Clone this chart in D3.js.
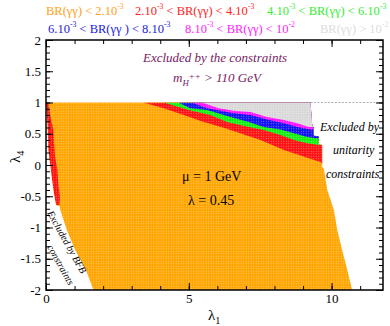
<!DOCTYPE html>
<html lang="en">
<head>
<meta charset="utf-8">
<title>BR(gamma gamma) scan in the lambda1 - lambda4 plane</title>
<script src="https://d3js.org/d3.v7.min.js"></script>
<style>
body { margin: 0; background: #fff; }
svg text { font-family: "Liberation Serif", "DejaVu Serif", serif; }
.axis path { display: none; }
.axis line { stroke: #000; stroke-width: 1; }
.axis text { font-size: 13px; fill: #000; }
</style>
</head>
<body>
<script>
// axis ticks
var xMajor = [0, 5, 10];
var xMinor = d3.range(0, 12, 1);
var yMajor = [-2, -1.5, -1, -0.5, 0, 0.5, 1, 1.5, 2];
var yMinor = d3.range(-20, 21).map(function(d) { return d / 10; });

// allowed region [lambda1, lambda4]
var allowed = [[0,1],[9.26,1],[9.32,0.64],[9.37,0.6],[9.37,0.47],[9.55,0.46],[9.55,0.33],
  [9.67,0.32],[9.67,-0.03],[9.73,-0.06],[9.85,-0.4],[10.08,-0.72],[10.2,-1.04],[10.37,-1.36],
  [10.55,-1.68],[10.72,-2],[1.66,-2],[1.4,-1.68],[1.02,-1.36],[0.73,-1.04],[0.5,-0.72],
  [0.48,-0.66],[0.35,-0.64],[0.32,-0.56],[0.26,-0.4],[0.2,-0.19],[0.14,0.03],[0.08,0.24],
  [0.07,0.45],[0.05,0.67],[0,1]];

// lower edges of each BR(gg) band
var redEdge = [[3.4,1],[4.12,0.91],[4.82,0.8],[5.52,0.69],[6.28,0.59],[6.98,0.48],[7.51,0.4],
  [8.33,0.24],[9.2,0.11],[9.61,0.05],[9.67,0.02]];
var greenEdge = [[4.12,1],[4.99,0.88],[5.75,0.8],[6.34,0.69],[7.1,0.61],[7.62,0.56],[8.21,0.48],
  [8.68,0.4],[9.15,0.35],[9.55,0.32]];
var blueEdge = [[4.64,1],[5.05,0.91],[5.64,0.88],[6.46,0.77],[7.1,0.69],[7.62,0.61],[8.21,0.57],
  [8.68,0.51],[9.15,0.45],[9.44,0.43]];
var magentaEdge = [[5.09,1],[5.64,0.91],[6.11,0.87],[6.57,0.83],[7.16,0.8],[7.74,0.73],
  [8.33,0.67],[8.8,0.61],[9.26,0.57]];
var grayEdge = [[5.46,1],[6.05,0.91],[6.57,0.87],[7.16,0.85],[7.74,0.77],[8.33,0.72],
  [8.8,0.67],[9.2,0.61]];

// red strip along the BFB edge
var leftStrip = [[0,1],[0.08,1],[0.16,0.77],[0.26,0.56],[0.28,0.35],[0.32,0.13],[0.4,-0.08],
  [0.43,-0.29],[0.49,-0.51],[0.47,-0.64],[0.35,-0.64],[0.32,-0.56],[0.26,-0.4],[0.2,-0.19],
  [0.14,0.03],[0.08,0.24],[0.07,0.45],[0.05,0.67]];

var colors = {orange: "#ffa500", red: "#ff1010", green: "#10f010", blue: "#1010f0",
              magenta: "#ff10ff", gray: "#d8d8d8"};

var w = 390, h = 326;
var svg = d3.select("body").append("svg").attr("width", w).attr("height", h);

var x = d3.scaleLinear().domain([0, 11.8]).range([46, 383]);
var y = d3.scaleLinear().domain([-2, 2]).range([290, 40]);

var line = d3.line().x(function(d) { return x(d[0]); }).y(function(d) { return y(d[1]); });

var defs = svg.append("defs");

// dotted scatter look
Object.keys(colors).forEach(function(k) {
  var p = defs.append("pattern").attr("id", "dots-" + k)
    .attr("patternUnits", "userSpaceOnUse").attr("width", 2.5).attr("height", 2.5);
  p.append("rect").attr("width", 2.5).attr("height", 2.5).attr("fill", colors[k]);
  p.append("circle").attr("cx", 1.25).attr("cy", 1.25).attr("r", 0.55)
    .attr("fill", "#fff").attr("opacity", 0.5);
});

defs.append("clipPath").attr("id", "allowedClip")
  .append("path").attr("d", line(allowed) + "Z");

svg.append("path").attr("d", line(allowed) + "Z").attr("fill", "url(#dots-orange)");

var bands = svg.append("g").attr("clip-path", "url(#allowedClip)");

function band(edge, key) {
  var last = edge[edge.length - 1];
  var pts = edge.concat([[12, last[1]], [12, 1]]);
  bands.append("path").attr("d", line(pts) + "Z").attr("fill", "url(#dots-" + key + ")");
}
band(redEdge, "red");
band(greenEdge, "green");
band(blueEdge, "blue");
band(magentaEdge, "magenta");
band(grayEdge, "gray");

bands.append("path").attr("d", line(leftStrip) + "Z").attr("fill", "url(#dots-red)");

// dashed line at lambda4 = 1 past the allowed region
svg.append("line")
  .attr("x1", x(9.26)).attr("x2", x(11.8)).attr("y1", y(1)).attr("y2", y(1))
  .attr("stroke", "#999").attr("stroke-width", 0.8).attr("stroke-dasharray", "2,1.5");

// axes, ticks pointing in
var fmt = function(d) { return String(d); };
function addAxis(axisFn, scale, vals, size, labels, tr, pad) {
  var a = axisFn(scale).tickValues(vals).tickSize(-size).tickPadding(pad || 4)
    .tickFormat(labels ? fmt : "");
  svg.append("g").attr("class", "axis").attr("transform", tr).call(a);
}
addAxis(d3.axisBottom, x, xMinor, 4, false, "translate(0,290)");
addAxis(d3.axisBottom, x, xMajor, 7, true, "translate(0,290)", 4);
addAxis(d3.axisTop, x, xMinor, 4, false, "translate(0,40)");
addAxis(d3.axisTop, x, xMajor, 7, false, "translate(0,40)");
addAxis(d3.axisLeft, y, yMinor, 4, false, "translate(46,0)");
addAxis(d3.axisLeft, y, yMajor, 7, true, "translate(46,0)", 5);
addAxis(d3.axisRight, y, yMinor, 4, false, "translate(383,0)");
addAxis(d3.axisRight, y, yMajor, 7, false, "translate(383,0)");

svg.append("rect").attr("x", 46).attr("y", 40).attr("width", 337).attr("height", 250)
  .attr("fill", "none").attr("stroke", "#000").attr("stroke-width", 1.5);

// text with super/subscripts: parts = [text, shift]
function rich(g, px, py, parts, size, color, style, subScale) {
  var t = g.append("text").attr("x", px).attr("y", py)
    .attr("font-size", size).attr("fill", color).attr("font-style", style || "normal");
  var cur = 0;
  parts.forEach(function(p) {
    var shift = p[1] || 0;
    t.append("tspan").attr("dy", shift - cur)
      .attr("font-size", shift ? size * (subScale || 0.68) : size).text(p[0]);
    cur = shift;
  });
  return t;
}

// legend
var lg = 12.5, ls = 0.62;
rich(svg, 46, 15, [["BR(\u03b3\u03b3) < 2.10"], ["-3", -6]], lg, "#ffa21a", null, ls);
rich(svg, 135, 15, [["2.10"], ["-3", -6], [" < BR(\u03b3\u03b3) < 4.10"], ["-3", -6]], lg, "#ff2222", null, ls);
rich(svg, 267, 15, [["4.10"], ["-3", -6], [" < BR(\u03b3\u03b3) < 6.10"], ["-3", -6]], lg, "#33ee33", null, ls);
rich(svg, 48, 33, [["6.10"], ["-3", -6], [" < BR(\u03b3\u03b3 ) < 8.10"], ["-3", -6]], lg, "#2222dd", null, ls);
rich(svg, 185, 33, [["8.10"], ["-3", -6], [" < BR(\u03b3\u03b3) < 10"], ["-2", -6]], lg, "#ff22ff", null, ls);
rich(svg, 320, 33, [["BR(\u03b3\u03b3) > 10"], ["-2", -6]], lg, "#dddddd", null, ls);

// annotations
var purple = "#7a2163";
rich(svg, 143, 62, [["Excluded by the constraints"]], 13, purple, "italic");
rich(svg, 173, 82, [["m"], ["H", 4], ["++", -3], [" > 110 GeV"]], 13, purple, "italic");

rich(svg, 320, 131, [["Excluded by"]], 12, "#000", "italic");
rich(svg, 333, 154, [["unitarity"]], 12, "#000", "italic");
rich(svg, 326, 178, [["constraints"]], 12, "#000", "italic");

rich(svg, 182, 181, [["\u03bc = 1 GeV"]], 14, "#000");
rich(svg, 188, 205, [["\u03bb = 0.45"]], 14, "#000");

svg.append("text").attr("transform", "translate(47,213) rotate(61)")
  .attr("font-size", 10).attr("font-style", "italic").text("Excluded by BFB");
svg.append("text").attr("transform", "translate(47,247) rotate(61)")
  .attr("font-size", 10).attr("font-style", "italic").text("constraints");

// axis titles
rich(svg, 208, 320, [["\u03bb"], ["1", 4]], 15, "#000");
var yl = svg.append("g").attr("transform", "translate(20,163) rotate(-90)");
rich(yl, 0, 0, [["\u03bb"], ["4", 4]], 15, "#000");
</script>
</body>
</html>
